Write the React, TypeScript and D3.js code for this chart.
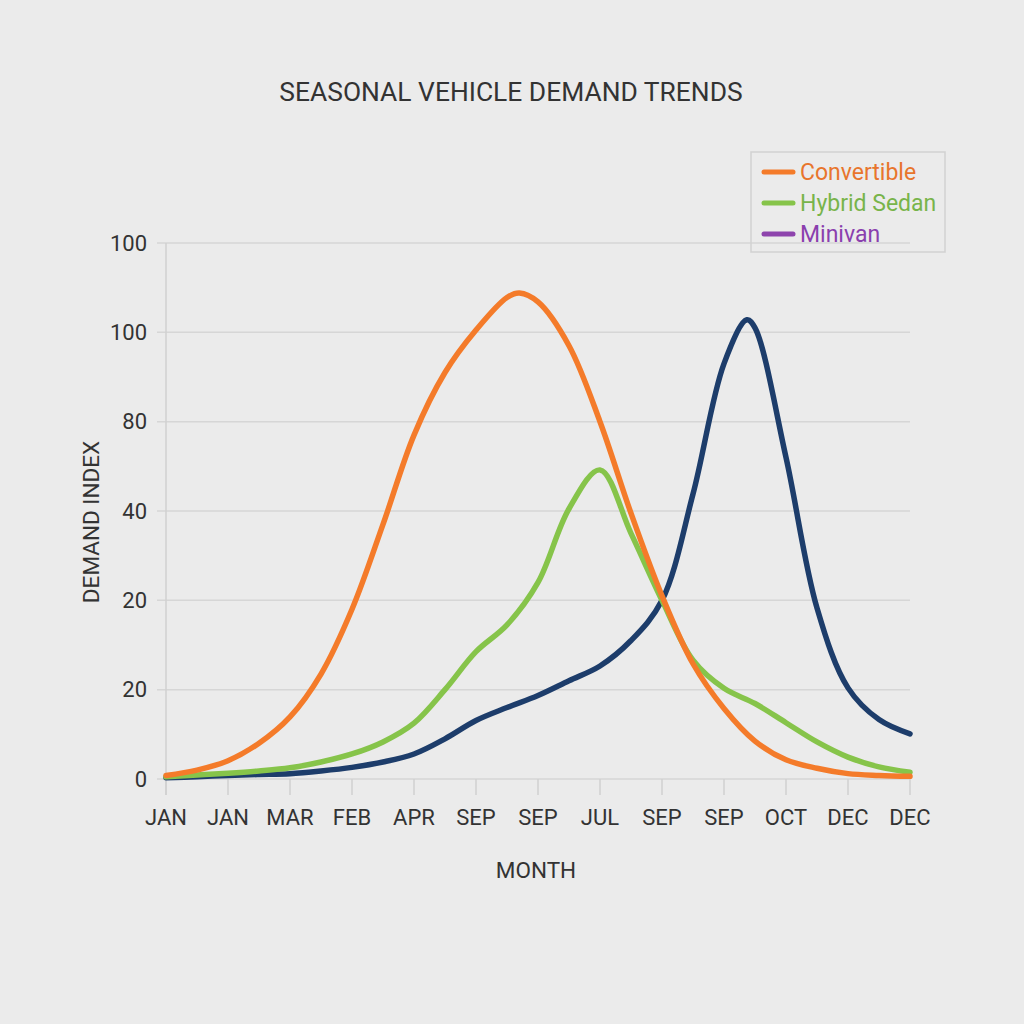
import React, { useRef, useEffect } from 'react';
import * as d3 from 'd3';

// month labels exactly as printed on the x axis
const monthLabels = ['JAN', 'JAN', 'MAR', 'FEB', 'APR', 'SEP', 'SEP', 'JUL', 'SEP', 'SEP', 'OCT', 'DEC', 'DEC'];
// y tick labels as printed (gridlines every 20 units)
const yTickValues = [0, 20, 40, 60, 80, 100, 120];
const yTickLabels = ['0', '20', '20', '40', '80', '100', '100'];

// half-month slots along the x axis (0..12)
const slots = [0, 0.5, 1, 1.5, 2, 2.5, 3, 3.5, 4, 4.5, 5, 5.5, 6, 6.5, 7, 7.5, 8, 8.5, 9, 9.5, 10, 10.5, 11, 11.5, 12];

// demand index at each slot
const convertible = [0.8, 2, 4.1, 8, 13.9, 23.5, 38, 57, 77, 91, 100.5, 107.8, 106.8, 97, 80, 59.5, 41, 25.8, 15.8, 8.5, 4.3, 2.4, 1.2, 0.8, 0.6];
const hybridSedan = [0.5, 0.9, 1.3, 1.8, 2.5, 3.8, 5.6, 8.3, 12.5, 20, 28.5, 34.5, 44, 60.5, 69.2, 55, 40, 26.6, 20.3, 16.9, 12.6, 8.3, 4.9, 2.7, 1.5];
const minivan = [0.3, 0.5, 0.8, 1, 1.2, 1.8, 2.6, 3.8, 5.6, 9, 13.1, 16, 18.7, 22, 25.3, 31, 40, 63.8, 93, 101, 72, 38.3, 20.4, 13.3, 10.1];
// peaks that fall between slots
const convertiblePeak = [5.7, 108.8];
const minivanPeak = [9.37, 102.8];

const seriesNames = ['Convertible', 'Hybrid Sedan', 'Minivan'];
const lineColors = ['#f47b2a', '#86c44a', '#1d3d6b'];
const legendColors = ['#f47b2a', '#86c44a', '#8e44ad'];
const legendTextColors = ['#e8752c', '#78b44a', '#8a3fae'];

const FONT = 'Roboto, "Noto Sans", sans-serif';

const App = () => {
  const svgRef = useRef(null);

  useEffect(() => {
    if (!svgRef.current) return;
    const svg = d3.select(svgRef.current);
    svg.selectAll('*').remove();

    const width = 1024;
    const height = 1024;
    const left = 166, right = 910, top = 243, bottom = 779;

    svg.append('rect').attr('width', width).attr('height', height).attr('fill', '#ebebeb');

    const x = d3.scaleLinear().domain([0, 12]).range([left, right]);
    const y = d3.scaleLinear().domain([0, 120]).range([bottom, top]);

    // gridlines
    svg.append('g')
      .selectAll('line')
      .data(yTickValues)
      .enter()
      .append('line')
      .attr('x1', left - 9)
      .attr('x2', right)
      .attr('y1', d => y(d))
      .attr('y2', d => y(d))
      .attr('stroke', '#d6d6d6')
      .attr('stroke-width', 1.5);

    // y axis line
    svg.append('line')
      .attr('x1', left).attr('x2', left)
      .attr('y1', top).attr('y2', bottom + 16)
      .attr('stroke', '#d0d0d0').attr('stroke-width', 1.5);

    // x ticks
    svg.append('g')
      .selectAll('line')
      .data(monthLabels)
      .enter()
      .append('line')
      .attr('x1', (d, i) => x(i))
      .attr('x2', (d, i) => x(i))
      .attr('y1', bottom)
      .attr('y2', bottom + 16)
      .attr('stroke', '#d0d0d0')
      .attr('stroke-width', 1.5);

    // y tick labels
    svg.append('g')
      .selectAll('text')
      .data(yTickValues)
      .enter()
      .append('text')
      .attr('x', 147)
      .attr('y', d => y(d))
      .attr('dy', '0.35em')
      .attr('text-anchor', 'end')
      .attr('font-family', FONT)
      .attr('font-size', 22)
      .attr('fill', '#333')
      .text((d, i) => yTickLabels[i]);

    // x tick labels
    svg.append('g')
      .selectAll('text')
      .data(monthLabels)
      .enter()
      .append('text')
      .attr('x', (d, i) => x(i))
      .attr('y', 825)
      .attr('text-anchor', 'middle')
      .attr('font-family', FONT)
      .attr('font-size', 22)
      .attr('fill', '#333')
      .text(d => d);

    // axis titles
    svg.append('text')
      .attr('x', 536)
      .attr('y', 878)
      .attr('text-anchor', 'middle')
      .attr('font-family', FONT)
      .attr('font-size', 22.5)
      .attr('fill', '#333')
      .text('MONTH');

    svg.append('text')
      .attr('transform', 'translate(99, 522) rotate(-90)')
      .attr('text-anchor', 'middle')
      .attr('font-family', FONT)
      .attr('font-size', 22.5)
      .attr('fill', '#333')
      .text('DEMAND INDEX');

    // title
    svg.append('text')
      .attr('x', 511)
      .attr('y', 101)
      .attr('text-anchor', 'middle')
      .attr('font-family', FONT)
      .attr('font-size', 26.4)
      .attr('fill', '#333')
      .text('SEASONAL VEHICLE DEMAND TRENDS');

    // lines
    const toPoints = (vals, peak) => {
      const pts = slots.map((s, j) => [s, vals[j]]);
      if (peak) {
        const at = pts.findIndex(p => p[0] > peak[0]);
        pts.splice(at, 0, peak);
      }
      return pts;
    };
    const series = [
      toPoints(convertible, convertiblePeak),
      toPoints(hybridSedan, null),
      toPoints(minivan, minivanPeak),
    ];

    const line = d3.line()
      .x(d => x(d[0]))
      .y(d => y(d[1]))
      .curve(d3.curveCatmullRom.alpha(0.5));

    // draw minivan first so the crossings layer like the picture
    [2, 1, 0].forEach(i => {
      svg.append('path')
        .attr('d', line(series[i]))
        .attr('fill', 'none')
        .attr('stroke', lineColors[i])
        .attr('stroke-width', 5.5)
        .attr('stroke-linecap', 'round')
        .attr('stroke-linejoin', 'round');
    });

    // legend
    const legend = svg.append('g').attr('transform', 'translate(751, 152)');
    legend.append('rect')
      .attr('width', 194)
      .attr('height', 100)
      .attr('fill', 'none')
      .attr('stroke', '#d2d2d2')
      .attr('stroke-width', 1.5);
    seriesNames.forEach((name, i) => {
      const yy = 20 + i * 31;
      legend.append('line')
        .attr('x1', 13).attr('x2', 42)
        .attr('y1', yy).attr('y2', yy)
        .attr('stroke', legendColors[i])
        .attr('stroke-width', 5)
        .attr('stroke-linecap', 'round');
      legend.append('text')
        .attr('x', 49)
        .attr('y', yy)
        .attr('dy', '0.35em')
        .attr('font-family', FONT)
        .attr('font-size', 23)
        .attr('fill', legendTextColors[i])
        .text(name);
    });
  }, []);

  return (
    <svg
      ref={svgRef}
      width={1024}
      height={1024}
      style={{ position: 'absolute', left: 0, top: 0, display: 'block' }}
    />
  );
};

export default App;
